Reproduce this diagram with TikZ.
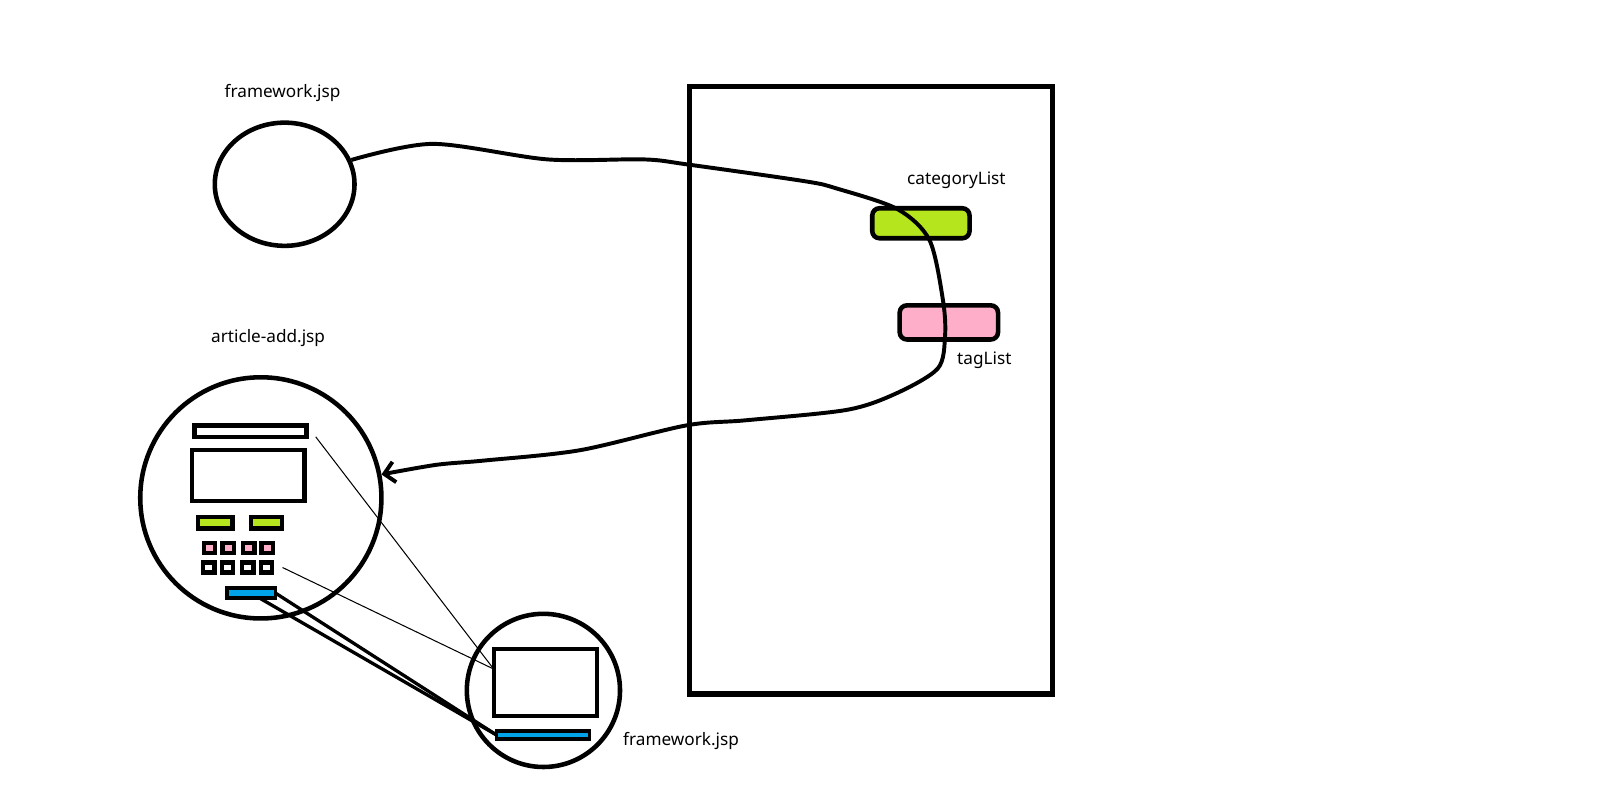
\documentclass[tikz,border=0pt]{standalone}
\usepackage{fontspec}
\setmainfont{Noto Sans}
\usetikzlibrary{shapes.geometric, arrows.meta}

\definecolor{lime}{HTML}{B5E61D}
\definecolor{rose}{HTML}{FFAEC9}
\definecolor{sky}{HTML}{00A2E8}

\begin{document}
\begin{tikzpicture}[x=0.5pt, y=-0.5pt,
  page/.style = {draw, line width=2.2pt, inner sep=0pt},
  part/.style = {draw, line width=2.1pt, inner sep=0pt, outer sep=0pt, rectangle},
  item/.style = {draw, line width=2.2pt, inner sep=0pt, rectangle, rounded corners=3.5pt},
  lbl/.style = {font=\fontsize{8.3}{10}\selectfont, inner sep=0pt},
  wire/.style = {line width=0.5pt},
  link/.style = {line width=1.6pt}]

\useasboundingbox (0,0) rectangle (1568,781);

%% pages
\node[page, ellipse, minimum width=67.5pt, minimum height=59.5pt] (fw) at (275,178) {};
\node[page, circle, minimum size=116.5pt] (add) at (252,481) {};
\node[page, circle, minimum size=74pt] (sub) at (525,667) {};
\node[page, rectangle, line width=2.6pt, minimum width=175.5pt, minimum height=293.5pt] (req) at (841.5,377) {};

%% labels
\node[lbl] (fwlabel) at (273,90) {framework.jsp};
\node[lbl] (addlabel) at (259,327) {article-add.jsp};
\node[lbl] (catlabel) at (924,174) {categoryList};
\node[lbl] (taglabel) at (951,348) {tagList};
\node[lbl] (sublabel) at (658,716) {framework.jsp};

%% request attributes
\node[item, fill=lime, minimum width=47pt, minimum height=14.5pt] (cat) at (889.7,215.7) {};
\node[item, fill=rose, minimum width=47.5pt, minimum height=16.5pt] (tag) at (916.7,311.5) {};

%% form inside article-add.jsp
\node[part, fill=white, minimum width=54pt, minimum height=5.5pt] (title) at (242,416.5) {};
\node[part, fill=white, minimum width=54.3pt, minimum height=24.7pt] (body) at (240,459.6) {};
\node[part, fill=lime, minimum width=16.5pt, minimum height=5.5pt] (sel1) at (208,505) {};
\node[part, fill=lime, minimum width=14.8pt, minimum height=5.5pt] (sel2) at (257.4,505) {};

\node[part, fill=rose, minimum width=5.5pt, minimum height=4.8pt] (box1) at (202.5,529.5) {};
\node[part, fill=rose, minimum width=5.5pt, minimum height=4.8pt] (box2) at (220.5,529.5) {};
\node[part, fill=rose, minimum width=5.5pt, minimum height=4.8pt] (box3) at (240.3,529.5) {};
\node[part, fill=rose, minimum width=5.5pt, minimum height=4.8pt] (box4) at (258.3,529.5) {};

\node[part, fill=white, minimum width=5.5pt, minimum height=4.8pt] (box5) at (201.8,548.3) {};
\node[part, fill=white, minimum width=5.5pt, minimum height=4.8pt] (box6) at (219.8,548.3) {};
\node[part, fill=white, minimum width=5.5pt, minimum height=4.8pt] (box7) at (239.5,548.3) {};
\node[part, fill=white, minimum width=5.5pt, minimum height=4.8pt] (box8) at (257.5,548.3) {};

\node[part, fill=sky, line width=1.8pt, minimum width=23.5pt, minimum height=5pt] (btn) at (242.7,573) {};

%% inside framework.jsp
\node[part, fill=white, minimum width=50pt, minimum height=32.5pt] (main) at (527,659.4) {};
\node[part, fill=sky, line width=1.8pt, minimum width=45pt, minimum height=4pt] (foot) at (524.6,710) {};

%%% edges
\draw[line width=1.9pt, -{Straight Barb[length=5pt, width=10pt]}]
  plot[smooth, tension=0.5] coordinates {(fw.20) (418,139) (529,154) (622,154) (665,159) (777,175) (808,182) (867,202) (898,232) (911,290) (913,325) (906,356) (866,380) (818,396) (721,406) (663,411) (560,435) (467,445) (422,449) (add.11)};

\draw[wire] ([xshift=4.5pt]title.south east) -- ([yshift=6.5pt]main.west);
\draw[wire] ([xshift=5pt]box8.east) -- ([yshift=6.5pt]main.west);

\draw[link] (btn.east) -- (foot.west);
\draw[link] ([xshift=4.2pt]btn.south) -- (foot.west);

\end{tikzpicture}
\end{document}
